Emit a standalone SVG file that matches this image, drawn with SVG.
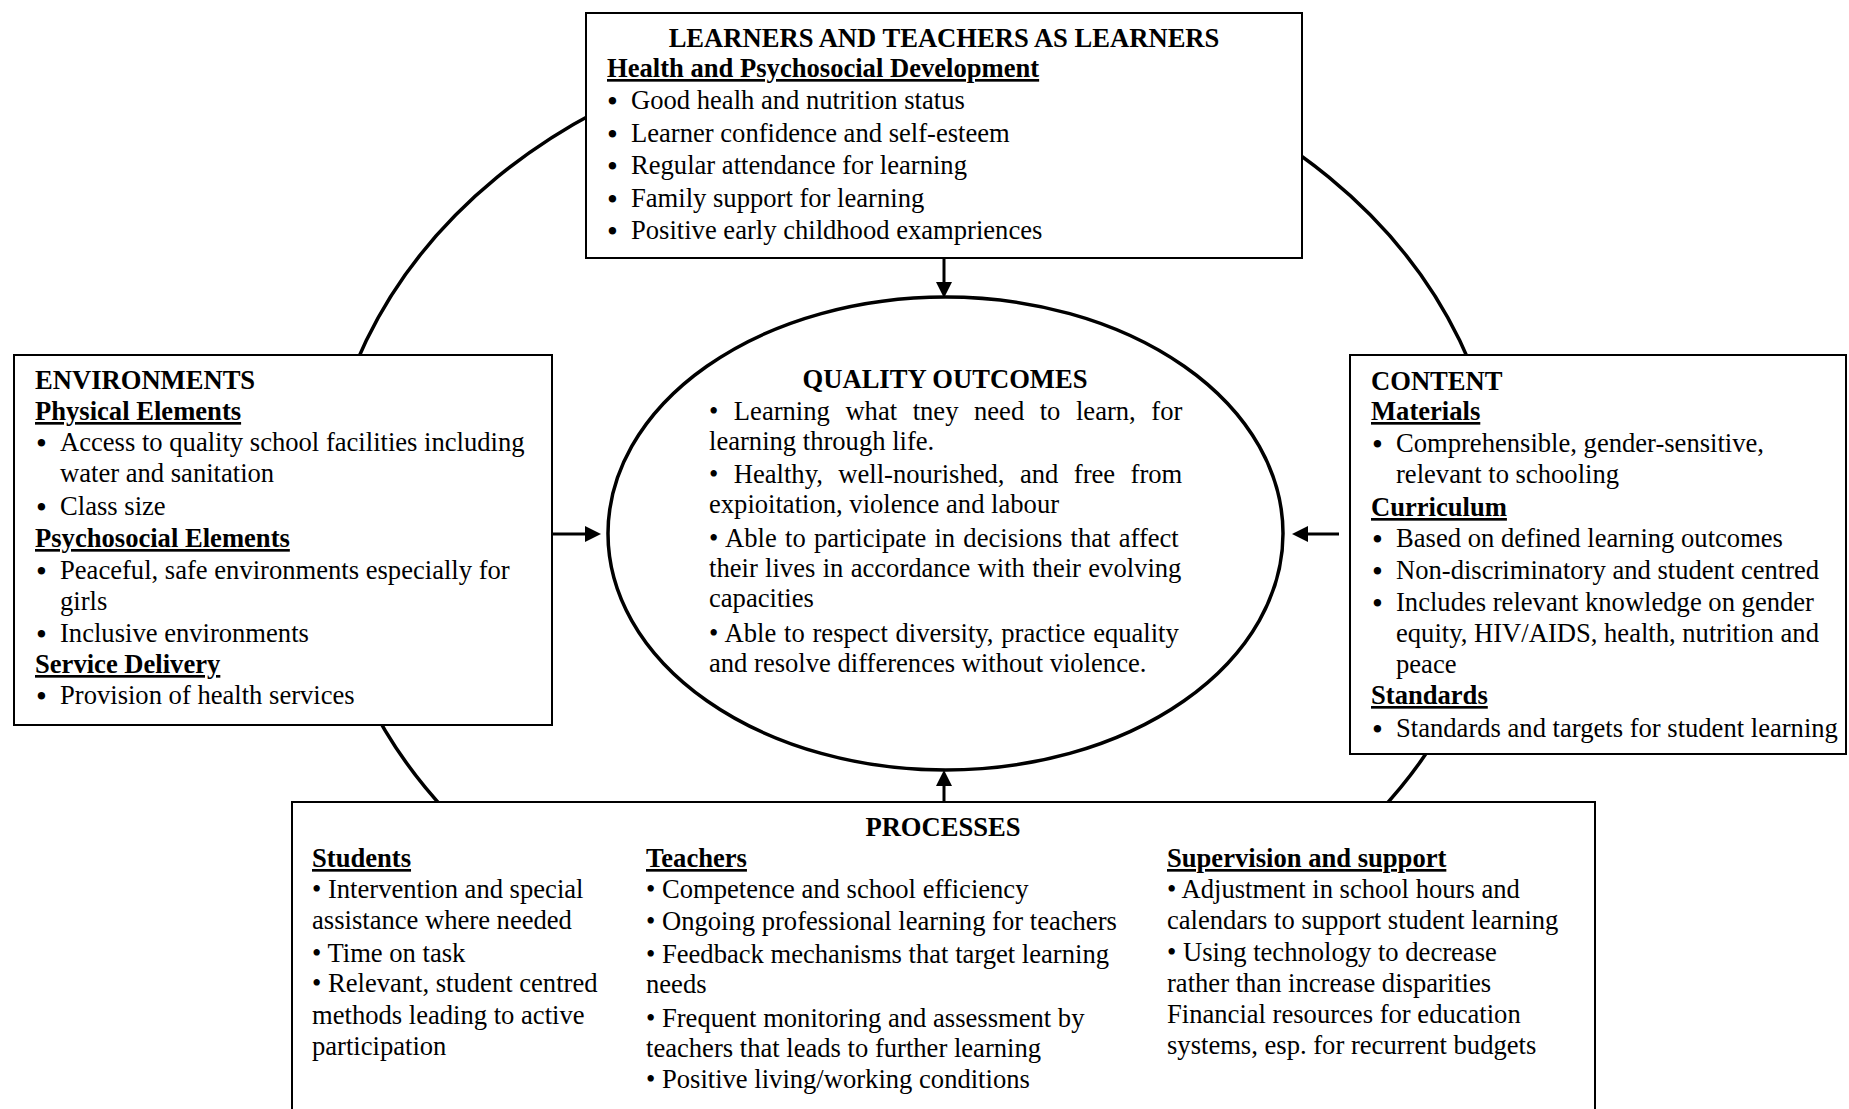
<svg xmlns="http://www.w3.org/2000/svg" width="1849" height="1109" viewBox="0 0 1849 1109">
<style>
.t{font-family:"Liberation Serif","Times New Roman",serif;font-size:26.6px;fill:#000}
.b{font-weight:bold}
.u{font-weight:bold;text-decoration:underline}
.m{text-anchor:middle}
.d{font-size:31px}
.box{fill:#fff;stroke:#000;stroke-width:2}
.ring{fill:none;stroke:#000;stroke-width:3.5}
.conn{fill:none;stroke:#000;stroke-width:3}
</style>
<defs>
<marker id="ah" viewBox="0 0 16 16" refX="6" refY="8" markerWidth="16" markerHeight="16" markerUnits="userSpaceOnUse" orient="auto">
<path d="M0,0 L16,8 L0,16 z" fill="#000"/>
</marker>
</defs>
<rect width="1849" height="1109" fill="#fff"/>
<g id="connectors">
<ellipse class="ring" cx="913" cy="518" rx="588" ry="482"/>
<line class="conn" x1="944" y1="258" x2="944" y2="288" marker-end="url(#ah)"/>
<line class="conn" x1="553" y1="534" x2="591" y2="534" marker-end="url(#ah)"/>
<line class="conn" x1="1339" y1="534" x2="1302" y2="534" marker-end="url(#ah)"/>
<line class="conn" x1="944" y1="802" x2="944" y2="780" marker-end="url(#ah)"/>
</g>
<g id="learners">
<rect class="box" x="586" y="13" width="716" height="245"/>
<text class="t b m" x="944" y="47">LEARNERS AND TEACHERS AS LEARNERS</text>
<text class="t u" x="607" y="77">Health and Psychosocial Development</text>
<text class="t d" x="607" y="112">•</text><text class="t" x="631" y="109">Good healh and nutrition status</text>
<text class="t d" x="607" y="145">•</text><text class="t" x="631" y="142">Learner confidence and self-esteem</text>
<text class="t d" x="607" y="177">•</text><text class="t" x="631" y="174">Regular attendance for learning</text>
<text class="t d" x="607" y="210">•</text><text class="t" x="631" y="207">Family support for learning</text>
<text class="t d" x="607" y="242">•</text><text class="t" x="631" y="239">Positive early childhood exampriences</text>
</g>
<g id="environments">
<rect class="box" x="14" y="355" width="538" height="370"/>
<text class="t b" x="35" y="389">ENVIRONMENTS</text>
<text class="t u" x="35" y="420">Physical Elements</text>
<text class="t d" x="36" y="454">•</text><text class="t" x="60" y="451">Access to quality school facilities including</text>
<text class="t" x="60" y="482">water and sanitation</text>
<text class="t d" x="36" y="518">•</text><text class="t" x="60" y="515">Class size</text>
<text class="t u" x="35" y="547">Psychosocial Elements</text>
<text class="t d" x="36" y="582">•</text><text class="t" x="60" y="579">Peaceful, safe environments especially for</text>
<text class="t" x="60" y="610">girls</text>
<text class="t d" x="36" y="645">•</text><text class="t" x="60" y="642">Inclusive environments</text>
<text class="t u" x="35" y="673">Service Delivery</text>
<text class="t d" x="36" y="707">•</text><text class="t" x="60" y="704">Provision of health services</text>
</g>
<g id="content">
<rect class="box" x="1350" y="355" width="496" height="399"/>
<text class="t b" x="1371" y="390">CONTENT</text>
<text class="t u" x="1371" y="420">Materials</text>
<text class="t d" x="1372" y="455">•</text><text class="t" x="1396" y="452">Comprehensible, gender-sensitive,</text>
<text class="t" x="1396" y="483">relevant to schooling</text>
<text class="t u" x="1371" y="516">Curriculum</text>
<text class="t d" x="1372" y="550">•</text><text class="t" x="1396" y="547">Based on defined learning outcomes</text>
<text class="t d" x="1372" y="582">•</text><text class="t" x="1396" y="579">Non-discriminatory and student centred</text>
<text class="t d" x="1372" y="614">•</text><text class="t" x="1396" y="611">Includes relevant knowledge on gender</text>
<text class="t" x="1396" y="642">equity, HIV/AIDS, health, nutrition and</text>
<text class="t" x="1396" y="673">peace</text>
<text class="t u" x="1371" y="704">Standards</text>
<text class="t d" x="1372" y="740">•</text><text class="t" x="1396" y="737">Standards and targets for student learning</text>
</g>
<g id="outcomes">
<ellipse cx="945.5" cy="533.5" rx="337.5" ry="236.5" style="fill:#fff;stroke:#000;stroke-width:3.5"/>
<text class="t b m" x="945" y="388">QUALITY OUTCOMES</text>
<text class="t" x="709" y="420" word-spacing="8.9">• Learning what tney need to learn, for</text>
<text class="t" x="709" y="450">learning through life.</text>
<text class="t" x="709" y="483" word-spacing="8.8">• Healthy, well-nourished, and free from</text>
<text class="t" x="709" y="513">expioitation, violence and labour</text>
<text class="t" x="709" y="547" word-spacing="1.6">• Able to participate in decisions that affect</text>
<text class="t" x="709" y="577" word-spacing="0.7">their lives in accordance with their evolving</text>
<text class="t" x="709" y="607">capacities</text>
<text class="t" x="709" y="642" word-spacing="1.1">• Able to respect diversity, practice equality</text>
<text class="t" x="709" y="672">and resolve differences without violence.</text>
</g>
<g id="processes">
<rect class="box" x="292" y="802" width="1303" height="330"/>
<text class="t b m" x="943" y="836">PROCESSES</text>
<text class="t u" x="312" y="867">Students</text>
<text class="t" x="312" y="898">• Intervention and special</text>
<text class="t" x="312" y="929">assistance where needed</text>
<text class="t" x="312" y="962">• Time on task</text>
<text class="t" x="312" y="992">• Relevant, student centred</text>
<text class="t" x="312" y="1024">methods leading to active</text>
<text class="t" x="312" y="1055">participation</text>
<text class="t u" x="646" y="867">Teachers</text>
<text class="t" x="646" y="898">• Competence and school efficiency</text>
<text class="t" x="646" y="930">• Ongoing professional learning for teachers</text>
<text class="t" x="646" y="963">• Feedback mechanisms that target learning</text>
<text class="t" x="646" y="993">needs</text>
<text class="t" x="646" y="1027">• Frequent monitoring and assessment by</text>
<text class="t" x="646" y="1057">teachers that leads to further learning</text>
<text class="t" x="646" y="1088">• Positive living/working conditions</text>
<text class="t u" x="1167" y="867">Supervision and support</text>
<text class="t" x="1167" y="898">• Adjustment in school hours and</text>
<text class="t" x="1167" y="929">calendars to support student learning</text>
<text class="t" x="1167" y="961">• Using technology to decrease</text>
<text class="t" x="1167" y="992">rather than increase disparities</text>
<text class="t" x="1167" y="1023">Financial resources for education</text>
<text class="t" x="1167" y="1054">systems, esp. for recurrent budgets</text>
</g>
</svg>
